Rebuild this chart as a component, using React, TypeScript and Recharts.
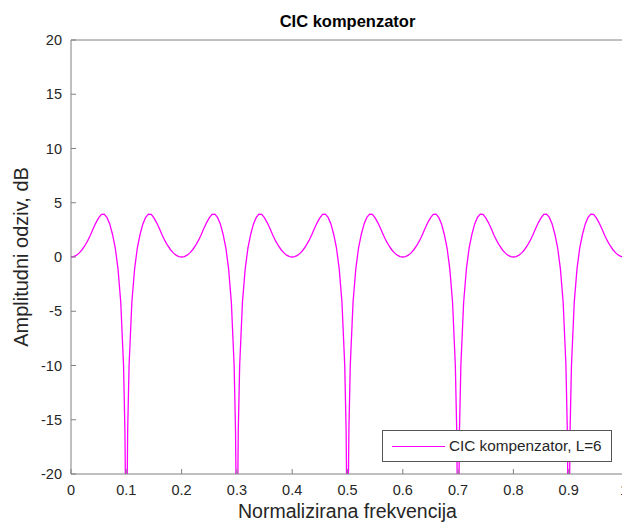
import { LineChart, Line, XAxis, YAxis, Label, Legend } from 'recharts'

// normalizirana frekvencija (0..1), gusto oko nula na 0.1, 0.3, 0.5, 0.7, 0.9
const freq = [
  0, 0.005, 0.01, 0.015, 0.02, 0.025, 0.03, 0.035, 0.04, 0.045, 0.05, 0.055, 0.06, 0.065, 0.07, 0.075, 0.08, 0.085, 0.09, 0.095, 0.0975, 0.099,
  0.1, 0.101, 0.1025, 0.105, 0.11, 0.115, 0.12, 0.125, 0.13, 0.135, 0.14, 0.145, 0.15, 0.155, 0.16, 0.165, 0.17, 0.175, 0.18, 0.185, 0.19, 0.195,
  0.2, 0.205, 0.21, 0.215, 0.22, 0.225, 0.23, 0.235, 0.24, 0.245, 0.25, 0.255, 0.26, 0.265, 0.27, 0.275, 0.28, 0.285, 0.29, 0.295, 0.2975, 0.299,
  0.3, 0.301, 0.3025, 0.305, 0.31, 0.315, 0.32, 0.325, 0.33, 0.335, 0.34, 0.345, 0.35, 0.355, 0.36, 0.365, 0.37, 0.375, 0.38, 0.385, 0.39, 0.395,
  0.4, 0.405, 0.41, 0.415, 0.42, 0.425, 0.43, 0.435, 0.44, 0.445, 0.45, 0.455, 0.46, 0.465, 0.47, 0.475, 0.48, 0.485, 0.49, 0.495, 0.4975, 0.499,
  0.5, 0.501, 0.5025, 0.505, 0.51, 0.515, 0.52, 0.525, 0.53, 0.535, 0.54, 0.545, 0.55, 0.555, 0.56, 0.565, 0.57, 0.575, 0.58, 0.585, 0.59, 0.595,
  0.6, 0.605, 0.61, 0.615, 0.62, 0.625, 0.63, 0.635, 0.64, 0.645, 0.65, 0.655, 0.66, 0.665, 0.67, 0.675, 0.68, 0.685, 0.69, 0.695, 0.6975, 0.699,
  0.7, 0.701, 0.7025, 0.705, 0.71, 0.715, 0.72, 0.725, 0.73, 0.735, 0.74, 0.745, 0.75, 0.755, 0.76, 0.765, 0.77, 0.775, 0.78, 0.785, 0.79, 0.795,
  0.8, 0.805, 0.81, 0.815, 0.82, 0.825, 0.83, 0.835, 0.84, 0.845, 0.85, 0.855, 0.86, 0.865, 0.87, 0.875, 0.88, 0.885, 0.89, 0.895, 0.8975, 0.899,
  0.9, 0.901, 0.9025, 0.905, 0.91, 0.915, 0.92, 0.925, 0.93, 0.935, 0.94, 0.945, 0.95, 0.955, 0.96, 0.965, 0.97, 0.975, 0.98, 0.985, 0.99, 0.995,
  1,
]

// amplitudni odziv u dB (ocitano sa slike, nule odrezane na -20)
const magDb = [
  0, 0.04, 0.17, 0.38, 0.67, 1.04, 1.48, 2.0, 2.6, 3.15, 3.6, 3.93, 3.95, 3.65, 3.05, 2.1, 0.85, -1.1, -4.2, -10, -16, -24,
  -60, -24, -16, -10, -4.2, -1.1, 0.85, 2.1, 3.05, 3.65, 3.95, 3.93, 3.6, 3.15, 2.6, 2.0, 1.48, 1.04, 0.67, 0.38, 0.17, 0.04,
  0, 0.04, 0.17, 0.38, 0.67, 1.04, 1.48, 2.0, 2.6, 3.15, 3.6, 3.93, 3.95, 3.65, 3.05, 2.1, 0.85, -1.1, -4.2, -10, -16, -24,
  -60, -24, -16, -10, -4.2, -1.1, 0.85, 2.1, 3.05, 3.65, 3.95, 3.93, 3.6, 3.15, 2.6, 2.0, 1.48, 1.04, 0.67, 0.38, 0.17, 0.04,
  0, 0.04, 0.17, 0.38, 0.67, 1.04, 1.48, 2.0, 2.6, 3.15, 3.6, 3.93, 3.95, 3.65, 3.05, 2.1, 0.85, -1.1, -4.2, -10, -16, -24,
  -60, -24, -16, -10, -4.2, -1.1, 0.85, 2.1, 3.05, 3.65, 3.95, 3.93, 3.6, 3.15, 2.6, 2.0, 1.48, 1.04, 0.67, 0.38, 0.17, 0.04,
  0, 0.04, 0.17, 0.38, 0.67, 1.04, 1.48, 2.0, 2.6, 3.15, 3.6, 3.93, 3.95, 3.65, 3.05, 2.1, 0.85, -1.1, -4.2, -10, -16, -24,
  -60, -24, -16, -10, -4.2, -1.1, 0.85, 2.1, 3.05, 3.65, 3.95, 3.93, 3.6, 3.15, 2.6, 2.0, 1.48, 1.04, 0.67, 0.38, 0.17, 0.04,
  0, 0.04, 0.17, 0.38, 0.67, 1.04, 1.48, 2.0, 2.6, 3.15, 3.6, 3.93, 3.95, 3.65, 3.05, 2.1, 0.85, -1.1, -4.2, -10, -16, -24,
  -60, -24, -16, -10, -4.2, -1.1, 0.85, 2.1, 3.05, 3.65, 3.95, 3.93, 3.6, 3.15, 2.6, 2.0, 1.48, 1.04, 0.67, 0.38, 0.17, 0.04,
  0,
]

const xTicks = [0, 0.1, 0.2, 0.3, 0.4, 0.5, 0.6, 0.7, 0.8, 0.9, 1]
const yTicks = [-20, -15, -10, -5, 0, 5, 10, 15, 20]

const seriesName = 'CIC kompenzator, L=6'
const title = 'CIC kompenzator'
const xLabel = 'Normalizirana frekvencija'
const yLabel = 'Amplitudni odziv, dB'

const FONT = '"Liberation Sans", Arial, Helvetica, sans-serif'
const AXIS = '#808080'
const TEXT = '#262626'
const MAGENTA = '#ff00ff'

const data = freq.map((f, i) => ({ f, db: magDb[i] }))

function LegendBox() {
  return (
    <div
      style={{
        width: 228,
        height: 30,
        border: '1px solid #555',
        background: '#fff',
        display: 'flex',
        alignItems: 'center',
        fontFamily: FONT,
        fontSize: 15.3,
        color: TEXT,
      }}
    >
      <span style={{ display: 'inline-block', width: 53, height: 0, borderTop: `1.3px solid ${MAGENTA}`, marginLeft: 9, marginRight: 4 }} />
      {seriesName}
    </div>
  )
}

export default function App() {
  const tickStyle = { fontSize: 14.5, fill: TEXT, fontFamily: FONT }
  return (
    <div style={{ position: 'fixed', left: 0, top: 0, width: 622, height: 524, overflow: 'hidden', background: '#fff' }}>
      <LineChart width={640} height={524} data={data} margin={{ top: 39, right: 15, bottom: 0, left: 0 }}>
        <XAxis
          dataKey="f"
          type="number"
          domain={[0, 1]}
          ticks={xTicks}
          tickSize={-5}
          tickMargin={16}
          height={50}
          tick={tickStyle}
          axisLine={{ stroke: AXIS }}
          tickLine={{ stroke: AXIS }}
        >
          <Label value={xLabel} position="insideBottom" offset={6} style={{ fontSize: 19.5, fill: TEXT, fontFamily: FONT }} />
        </XAxis>
        <XAxis
          xAxisId="top"
          dataKey="f"
          orientation="top"
          type="number"
          domain={[0, 1]}
          ticks={xTicks}
          tick={false}
          tickSize={-5}
          height={1}
          axisLine={{ stroke: AXIS }}
          tickLine={{ stroke: AXIS }}
        >
          <Label value={title} position="top" offset={12} style={{ fontSize: 16.5, fontWeight: 'bold', fill: '#000', fontFamily: FONT }} />
        </XAxis>
        <YAxis
          type="number"
          domain={[-20, 20]}
          ticks={yTicks}
          allowDataOverflow
          width={71}
          tickSize={-5}
          tickMargin={14}
          tick={tickStyle}
          axisLine={{ stroke: AXIS }}
          tickLine={{ stroke: AXIS }}
        >
          <Label
            value={yLabel}
            angle={-90}
            position="insideLeft"
            offset={21}
            style={{ textAnchor: 'middle', fontSize: 20, fill: TEXT, fontFamily: FONT }}
          />
        </YAxis>
        <YAxis
          yAxisId="right"
          orientation="right"
          type="number"
          domain={[-20, 20]}
          ticks={yTicks}
          allowDataOverflow
          width={1}
          tick={false}
          tickSize={-5}
          axisLine={{ stroke: AXIS }}
          tickLine={{ stroke: AXIS }}
        />
        <Legend
          layout="horizontal"
          verticalAlign="middle"
          align="center"
          content={() => <LegendBox />}
          wrapperStyle={{ left: 382, top: 430, width: 230, height: 32 }}
        />
        {/* same series on the top/right frame axes, drawn invisibly so MATLAB's box appears */}
        <Line
          xAxisId="top"
          yAxisId="right"
          dataKey="db"
          type="linear"
          stroke="none"
          dot={false}
          activeDot={false}
          legendType="none"
          isAnimationActive={false}
        />
        <Line
          name={seriesName}
          dataKey="db"
          type="linear"
          stroke={MAGENTA}
          strokeWidth={1.3}
          dot={false}
          activeDot={false}
          isAnimationActive={false}
        />
      </LineChart>
    </div>
  )
}
